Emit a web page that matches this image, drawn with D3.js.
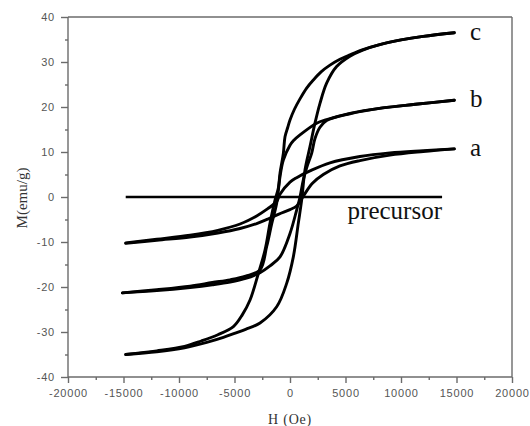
<!DOCTYPE html>
<html>
<head>
<meta charset="utf-8">
<script src="https://cdn.jsdelivr.net/npm/d3@7"></script>
<style>
  body { margin: 0; background: #fff; }
  svg { display: block; }
</style>
</head>
<body>
<svg id="canvas"></svg>
<script>
// ---------------- data ----------------
// H in Oe, M in emu/g, each branch listed in increasing H
let aDownH = [-14800, -12000, -9000, -6500, -4500, -3000, -2000, -1200, -900, 0, 600, 1800, 3600, 6300, 9000, 12000, 14800]
let aDownM = [-10.2, -9.4, -8.5, -7.4, -6.0, -4.2, -2.6, -1.0, 0.6, 3.3, 4.3, 5.8, 7.6, 9.0, 9.8, 10.3, 10.7]
let aUpH = [-14800, -12000, -9000, -6500, -4500, -3000, -2000, -1000, 0, 600, 1200, 2000, 3000, 4500, 6300, 9000, 12000, 14800]
let aUpM = [-10.3, -9.6, -8.9, -8.0, -7.0, -5.9, -4.9, -3.8, -2.8, -2.0, 0.2, 3.0, 5.0, 6.9, 8.1, 9.3, 10.1, 10.7]

let bDownH = [-15100, -12000, -9000, -7000, -5400, -4000, -2700, -2100, -1650, -1200, -900, -600, 0, 300, 900, 2400, 3300, 5400, 8350, 11300, 14800]
let bDownM = [-21.3, -20.6, -19.8, -19.0, -18.4, -17.6, -16.2, -11.0, -6.0, -1.4, 4.5, 8.2, 11.5, 12.5, 13.8, 16.4, 17.2, 18.6, 19.8, 20.6, 21.5]
let bUpH = [-15100, -12000, -9000, -7000, -5400, -4000, -2700, -1800, -900, 0, 600, 900, 1200, 1500, 1950, 2250, 2700, 3300, 5400, 8350, 11300, 14800]
let bUpM = [-21.3, -20.8, -20.1, -19.5, -18.9, -18.1, -16.8, -15.3, -13.3, -8.1, -2.9, 0, 3.8, 6.5, 9.7, 13.0, 15.5, 17.0, 18.5, 19.8, 20.6, 21.5]

let cDownH = [-14800, -12000, -9500, -8000, -6500, -5100, -4300, -3600, -2850, -2250, -1800, -1350, -1050, -900, -600, -450, -200, 0, 400, 900, 1500, 2100, 2800, 3600, 4500, 5400, 6500, 8000, 10000, 12000, 14800]
let cDownM = [-35.0, -34.2, -33.2, -32.0, -30.6, -28.8, -26.2, -22.9, -17.0, -11.8, -5.8, -0.7, 2.0, 5.3, 9.7, 13.4, 15.5, 17.1, 19.5, 21.8, 24.2, 26.0, 27.8, 29.3, 30.6, 31.6, 32.7, 33.8, 34.9, 35.7, 36.5]
let cUpH = [-14800, -12000, -9500, -7500, -6000, -5000, -4000, -2700, -1200, -300, 300, 750, 1050, 1350, 1800, 2250, 2700, 3300, 4200, 5400, 6500, 8000, 10000, 12000, 14800]
let cUpM = [-35.0, -34.4, -33.5, -32.3, -31.2, -30.3, -29.4, -28.0, -24.4, -19.2, -13.3, -5.8, -0.7, 6.0, 11.2, 16.4, 20.8, 25.3, 29.0, 31.3, 32.6, 33.8, 34.9, 35.7, 36.5]

let precursorH = [-14800, -10000, -5000, 0, 5000, 10000, 13700]
let precursorM = [0, 0, 0, 0, 0, 0, 0]

let xMajor = [-20000, -15000, -10000, -5000, 0, 5000, 10000, 15000, 20000]
let xMinor = [-17500, -12500, -7500, -2500, 2500, 7500, 12500, 17500]
let yMajor = [-40, -30, -20, -10, 0, 10, 20, 30, 40]
let yMinor = [-35, -25, -15, -5, 5, 15, 25, 35]

let curveNames = ['c', 'b', 'a']
let curveEndM = [36.5, 21.5, 10.7]

// ---------------- canvas ----------------
let width = 530
let height = 426
let plotLeft = 68, plotRight = 512, plotTop = 17, plotBottom = 377

let canvas = d3.select('#canvas')
canvas.attr('width', width).attr('height', height)

let xScale = d3.scaleLinear().domain([-20000, 20000]).range([plotLeft, plotRight])
let yScale = d3.scaleLinear().domain([-40, 40]).range([plotBottom, plotTop])

let axisColor = '#6b6b6b'
let labelColor = '#555'

// frame on top and right
canvas.append('line')
      .attr('x1', plotLeft).attr('x2', plotRight).attr('y1', plotTop).attr('y2', plotTop)
      .attr('stroke', axisColor).attr('stroke-width', 1.4)
canvas.append('line')
      .attr('x1', plotRight).attr('x2', plotRight).attr('y1', plotTop).attr('y2', plotBottom)
      .attr('stroke', axisColor).attr('stroke-width', 1.4)

// axes
let xAxis = d3.axisBottom(xScale).tickValues(xMajor).tickSize(6).tickPadding(6).tickFormat(d => String(d))
let xAxisMinor = d3.axisBottom(xScale).tickValues(xMinor).tickSize(3).tickFormat('')
let yAxis = d3.axisLeft(yScale).tickValues(yMajor).tickSize(7).tickPadding(6).tickFormat(d => String(d))
let yAxisMinor = d3.axisLeft(yScale).tickValues(yMinor).tickSize(3).tickFormat('')

let styleAxis = (g) => {
    g.selectAll('path, line').attr('stroke', axisColor).attr('stroke-width', 1.4)
    g.select('.domain').remove()
    g.selectAll('text')
     .attr('fill', labelColor)
     .style('font-family', 'Arial, "Liberation Sans", sans-serif')
     .style('font-size', '11px')
     .style('letter-spacing', '0.8px')
}

canvas.append('g').attr('transform', 'translate(0,' + plotBottom + ')').call(xAxisMinor).call(styleAxis)
canvas.append('g').attr('transform', 'translate(0,' + plotBottom + ')').call(xAxis).call(styleAxis)
canvas.append('g').attr('transform', 'translate(' + plotLeft + ',0)').call(yAxisMinor).call(styleAxis)
canvas.append('g').attr('transform', 'translate(' + plotLeft + ',0)').call(yAxis).call(styleAxis)

// axis lines
canvas.append('line')
      .attr('x1', plotLeft).attr('x2', plotRight).attr('y1', plotBottom).attr('y2', plotBottom)
      .attr('stroke', axisColor).attr('stroke-width', 1.4)
canvas.append('line')
      .attr('x1', plotLeft).attr('x2', plotLeft).attr('y1', plotTop).attr('y2', plotBottom)
      .attr('stroke', axisColor).attr('stroke-width', 1.4)

// ---------------- curves ----------------
let line = d3.line()
             .x(d => xScale(d[0]))
             .y(d => yScale(d[1]))
             .curve(d3.curveCatmullRom.alpha(0.5))

let pair = (hs, ms) => hs.map((h, i) => [h, ms[i]])

let branches = [
    pair(aDownH, aDownM), pair(aUpH, aUpM),
    pair(bDownH, bDownM), pair(bUpH, bUpM),
    pair(cDownH, cDownM), pair(cUpH, cUpM)
]

canvas.selectAll('path.loop')
      .data(branches)
      .enter()
      .append('path')
      .attr('class', 'loop')
      .attr('d', line)
      .attr('fill', 'none')
      .attr('stroke', '#000')
      .attr('stroke-width', 2.9)
      .attr('stroke-linecap', 'round')

let straight = d3.line()
                 .x(d => xScale(d[0]))
                 .y(d => yScale(d[1]))

canvas.append('path')
      .attr('d', straight(pair(precursorH, precursorM)))
      .attr('fill', 'none')
      .attr('stroke', '#000')
      .attr('stroke-width', 2.4)

// ---------------- text ----------------
let serif = '"Times New Roman", "Liberation Serif", "DejaVu Serif", serif'

canvas.selectAll('text.curve-name')
      .data(curveNames)
      .enter()
      .append('text')
      .attr('class', 'curve-name')
      .attr('x', 470)
      .attr('y', (d, i) => yScale(curveEndM[i]) + 7)
      .text(d => d)
      .style('font-family', serif)
      .style('font-size', '25px')
      .attr('fill', '#111')

canvas.append('text')
      .attr('x', 442).attr('y', 219)
      .attr('text-anchor', 'end')
      .text('precursor')
      .style('font-family', serif)
      .style('font-size', '25px')
      .attr('fill', '#111')

canvas.append('text')
      .attr('x', 290).attr('y', 424)
      .attr('text-anchor', 'middle')
      .text('H (Oe)')
      .style('font-family', serif)
      .style('font-size', '14px')
      .style('letter-spacing', '0.8px')
      .attr('fill', '#333')

canvas.append('text')
      .attr('transform', 'translate(27,198) rotate(-90)')
      .attr('text-anchor', 'middle')
      .text('M(emu/g)')
      .style('font-family', serif)
      .style('font-size', '15px')
      .attr('fill', '#333')
</script>
</body>
</html>
